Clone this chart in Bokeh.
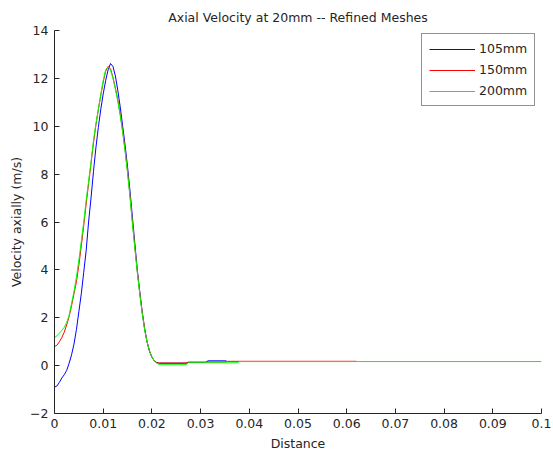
from bokeh.plotting import figure
from bokeh.models import FixedTicker, Legend, LegendItem
from bokeh.embed import file_html
from bokeh.resources import INLINE

# Axial velocity profiles at 20 mm for three refined meshes
x_105 = [0, 0.0005, 0.001, 0.0015, 0.002, 0.0025, 0.003, 0.0035, 0.004, 0.0045,
         0.005, 0.0055, 0.006, 0.0065, 0.007, 0.0075, 0.008, 0.0085, 0.009, 0.0095,
         0.010, 0.0105, 0.011, 0.0115, 0.012, 0.0125, 0.013, 0.0135, 0.014, 0.0145,
         0.015, 0.0155, 0.016, 0.0165, 0.017, 0.0175, 0.018, 0.0185, 0.019, 0.0195,
         0.020, 0.0205, 0.021, 0.0215, 0.027, 0.0275, 0.031, 0.0315, 0.0353]
v_105 = [-0.9, -0.85, -0.7, -0.52, -0.38, -0.2, 0.1, 0.45, 0.9, 1.5,
         2.25, 3.0, 3.9, 4.8, 6.0, 7.0, 8.1, 9.1, 9.95, 10.7,
         11.35, 11.9, 12.35, 12.62, 12.5, 12.1, 11.5, 10.8, 10.0, 9.2,
         8.3, 7.3, 6.2, 5.1, 4.0, 3.1, 2.25, 1.55, 1.0, 0.6,
         0.35, 0.2, 0.12, 0.1, 0.1, 0.13, 0.13, 0.2, 0.2]

x_150 = [0, 0.0005, 0.001, 0.0015, 0.002, 0.0025, 0.003, 0.0035, 0.004, 0.0045,
         0.005, 0.0055, 0.006, 0.0065, 0.007, 0.0075, 0.008, 0.0085, 0.009, 0.0095,
         0.010, 0.0105, 0.011, 0.0115, 0.012, 0.0125, 0.013, 0.0135, 0.014, 0.0145,
         0.015, 0.0155, 0.016, 0.0165, 0.017, 0.0175, 0.018, 0.0185, 0.019, 0.0195,
         0.020, 0.0205, 0.021, 0.0215, 0.027, 0.0275, 0.035, 0.0355, 0.062]
v_150 = [0.8, 0.85, 1.0, 1.17, 1.4, 1.7, 2.05, 2.5, 3.0, 3.5,
         4.2, 5.0, 5.85, 6.75, 7.6, 8.45, 9.3, 10.05, 10.7, 11.3,
         11.85, 12.3, 12.5, 12.4, 12.05, 11.6, 11.1, 10.5, 9.8, 9.0,
         8.1, 7.1, 6.0, 4.95, 3.95, 3.05, 2.25, 1.55, 1.0, 0.62,
         0.35, 0.2, 0.13, 0.11, 0.11, 0.15, 0.15, 0.18, 0.18]

x_200 = [0, 0.0005, 0.001, 0.0015, 0.002, 0.0025, 0.003, 0.0035, 0.004, 0.0045,
         0.005, 0.0055, 0.006, 0.0065, 0.007, 0.0075, 0.008, 0.0085, 0.009, 0.0095,
         0.010, 0.0105, 0.011, 0.0115, 0.012, 0.0125, 0.013, 0.0135, 0.014, 0.0145,
         0.015, 0.0155, 0.016, 0.0165, 0.017, 0.0175, 0.018, 0.0185, 0.019, 0.0195,
         0.020, 0.0205, 0.021, 0.0215, 0.022, 0.027, 0.0275, 0.0375, 0.038, 0.1]
v_200 = [1.17, 1.25, 1.35, 1.47, 1.6, 1.8, 2.1, 2.6, 3.1, 3.7,
         4.4, 5.2, 6.0, 6.9, 7.7, 8.5, 9.4, 10.1, 10.7, 11.3,
         11.9, 12.35, 12.48, 12.35, 12.0, 11.55, 11.05, 10.45, 9.75, 8.95,
         8.05, 7.05, 5.95, 4.9, 3.9, 3.0, 2.2, 1.5, 1.0, 0.62,
         0.36, 0.2, 0.1, 0.05, 0.04, 0.04, 0.12, 0.12, 0.17, 0.17]

series_names = ["105mm", "150mm", "200mm"]
series_colors = ["#0000ff", "#ff0000", "#00ff00"]

x_ticks = [0, 0.01, 0.02, 0.03, 0.04, 0.05, 0.06, 0.07, 0.08, 0.09, 0.1]
x_tick_labels = ["0", "0.01", "0.02", "0.03", "0.04", "0.05", "0.06", "0.07", "0.08", "0.09", "0.1"]
y_ticks = [-2, 0, 2, 4, 6, 8, 10, 12, 14]

FONT = "DejaVu Sans"
FS = "12.5px"
INK = "#262626"

p = figure(width=553, height=457, x_range=(0, 0.1), y_range=(-2, 14),
           output_backend="svg", toolbar_location=None,
           min_border_left=54, min_border_right=12, min_border_top=30, min_border_bottom=44,
           title="Axial Velocity at 20mm -- Refined Meshes")

p.title.align = "center"
p.title.text_font = FONT
p.title.text_font_size = FS
p.title.text_font_style = "normal"
p.title.text_color = INK
p.title.offset = 0
p.title.standoff = 12

p.outline_line_color = None
p.grid.visible = False
p.background_fill_color = "white"
p.border_fill_color = "white"

for ax in (p.xaxis[0], p.yaxis[0]):
    ax.major_tick_in = 5
    ax.major_tick_out = 0
    ax.minor_tick_in = 0
    ax.minor_tick_out = 0
    ax.axis_line_color = INK
    ax.major_tick_line_color = INK
    ax.major_label_text_font = FONT
    ax.major_label_text_font_size = FS
    ax.major_label_text_color = INK
    ax.axis_label_text_font = FONT
    ax.axis_label_text_font_size = FS
    ax.axis_label_text_font_style = "normal"
    ax.axis_label_text_color = INK

p.xaxis.ticker = FixedTicker(ticks=x_ticks)
p.xaxis.major_label_overrides = {t: s for t, s in zip(x_ticks, x_tick_labels)}
p.yaxis.ticker = FixedTicker(ticks=y_ticks)
p.xaxis.axis_label = "Distance"
p.yaxis.axis_label = "Velocity axially (m/s)"
p.xaxis.major_label_standoff = 5
p.xaxis.axis_label_standoff = 5
p.yaxis.major_label_standoff = 6
p.yaxis.axis_label_standoff = 3

renderers = []
for xs, vs, c in zip([x_105, x_150, x_200], [v_105, v_150, v_200], series_colors):
    renderers.append(p.line(xs, vs, line_color=c, line_width=1))

legend = Legend(items=[LegendItem(label=n, renderers=[r]) for n, r in zip(series_names, renderers)],
                location=(367, 307), margin=0, padding=7, spacing=6,
                glyph_width=46, glyph_height=14, label_height=14, label_width=44,
                label_standoff=4, label_text_font=FONT, label_text_font_size=FS,
                label_text_color=INK, border_line_color=INK, border_line_width=1,
                background_fill_color="white", background_fill_alpha=1)
p.add_layout(legend, "center")

open("out.html", "w").write(file_html(p, INLINE))
